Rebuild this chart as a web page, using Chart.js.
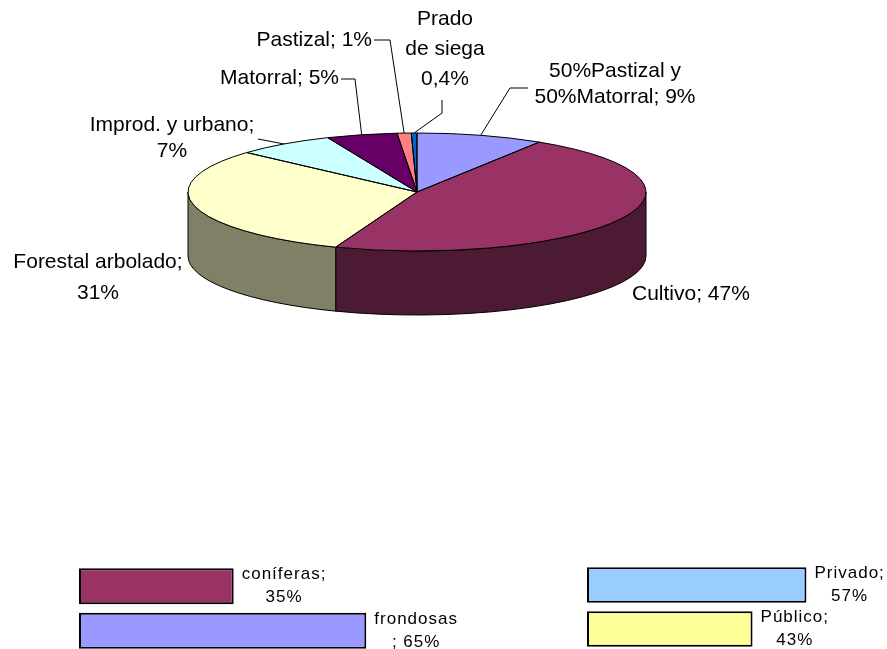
<!DOCTYPE html>
<html>
<head>
<meta charset="utf-8">
<script src="https://cdn.jsdelivr.net/npm/chart.js"></script>
<style>
  html, body { margin: 0; padding: 0; background: #fff; overflow: hidden; width: 887px; height: 649px; }
  .box { position: absolute; }
</style>
</head>
<body>
<div class="box" style="left:0;top:0;width:887px;height:555px"><canvas id="usoChart"></canvas></div>
<div class="box" style="left:70px;top:555px;width:470px;height:100px"><canvas id="especieChart"></canvas></div>
<div class="box" style="left:580px;top:555px;width:307px;height:100px"><canvas id="propiedadChart"></canvas></div>
<script>
// Usos del suelo (pie)
const usoLabels = ['50%Pastizal y 50%Matorral', 'Cultivo', 'Forestal arbolado', 'Improd. y urbano', 'Matorral', 'Pastizal', 'Prado de siega'];
const usoValues = [9, 47, 31, 7, 5, 1, 0.4];
const usoColors = ['#9999FF', '#993366', '#FFFFCC', '#CCFFFF', '#660066', '#FF8080', '#0066CC'];

// Especies del arbolado
const especieLabels = ['coníferas', 'frondosas'];
const especieValues = [35, 65];
const especieColors = ['#993366', '#9999FF'];

// Propiedad
const propiedadLabels = ['Privado', 'Público'];
const propiedadValues = [57, 43];
const propiedadColors = ['#99CCFF', '#FFFF99'];

const FONT = '"Liberation Sans", Arial, sans-serif';

// screen shape of the squashed pie
const PIE = { cy: 192, ry: 59, depth: 64 };

// label boxes for the pie (text and where it sits; anchors come from the arcs)
const pieLabelLayout = [
  { lines: ['50%Pastizal y', '50%Matorral; 9%'], x: 615, y: 71, gap: 26, align: 'center', leader: [[528, 88], [510, 88]] },
  { lines: ['Cultivo; 47%'], x: 632, y: 294, align: 'left' },
  { lines: ['Forestal arbolado;', '31%'], x: 98, y: 262, gap: 31, align: 'center' },
  { lines: ['Improd. y urbano;', '7%'], x: 172, y: 125, gap: 26, align: 'center', leader: [[258, 139]] },
  { lines: ['Matorral; 5%'], x: 339, y: 78, align: 'right', leader: [[341, 79], [355, 79]] },
  { lines: ['Pastizal; 1%'], x: 372, y: 40, align: 'right', leader: [[374, 40], [390, 40]] },
  { lines: ['Prado', 'de siega', '0,4%'], x: 445, y: 19, gap: 30, align: 'center', leader: [[442, 100], [442, 113]] },
];

function darker(hex) {
  const n = parseInt(hex.slice(1), 16);
  const r = Math.round(((n >> 16) & 255) / 2);
  const g = Math.round(((n >> 8) & 255) / 2);
  const b = Math.round((n & 255) / 2);
  return `rgb(${r},${g},${b})`;
}

// Draws the walls, squashes the top face and adds outlines
const pie3d = {
  id: 'pie3d',
  beforeDatasetsDraw(chart) {
    const ctx = chart.ctx;
    const arcs = chart.getDatasetMeta(0).data;
    const cx = arcs[0].x, rx = arcs[0].outerRadius;
    ctx.save();
    ctx.lineWidth = 1;
    ctx.strokeStyle = '#000';
    arcs.forEach((arc, i) => {
      const a = Math.max(arc.startAngle, 0);
      const b = Math.min(arc.endAngle, Math.PI);
      if (b <= a) return;
      ctx.beginPath();
      ctx.ellipse(cx, PIE.cy, rx, PIE.ry, 0, a, b);
      ctx.ellipse(cx, PIE.cy + PIE.depth, rx, PIE.ry, 0, b, a, true);
      ctx.closePath();
      ctx.fillStyle = darker(usoColors[i]);
      ctx.fill();
      ctx.stroke();
    });
    ctx.restore();
    ctx.save();
    ctx.translate(0, PIE.cy);
    ctx.scale(1, PIE.ry / rx);
    ctx.translate(0, -arcs[0].y);
  },
  afterDatasetsDraw(chart) {
    const ctx = chart.ctx;
    ctx.restore();
    const arcs = chart.getDatasetMeta(0).data;
    const cx = arcs[0].x, rx = arcs[0].outerRadius;
    ctx.save();
    ctx.lineWidth = 1;
    ctx.strokeStyle = '#000';
    arcs.forEach(arc => {
      ctx.beginPath();
      ctx.moveTo(cx, PIE.cy);
      ctx.ellipse(cx, PIE.cy, rx, PIE.ry, 0, arc.startAngle, arc.endAngle);
      ctx.closePath();
      ctx.stroke();
    });

    // labels and leader lines
    ctx.fillStyle = '#000';
    ctx.font = `21px ${FONT}`;
    ctx.textBaseline = 'middle';
    pieLabelLayout.forEach((lab, i) => {
      ctx.textAlign = lab.align;
      lab.lines.forEach((t, j) => ctx.fillText(t, lab.x, lab.y + j * (lab.gap || 0)));
      if (lab.leader) {
        const arc = arcs[i];
        const m = (arc.startAngle + arc.endAngle) / 2;
        const ax = cx + rx * Math.cos(m), ay = PIE.cy + PIE.ry * Math.sin(m);
        ctx.beginPath();
        ctx.moveTo(lab.leader[0][0], lab.leader[0][1]);
        lab.leader.slice(1).forEach(p => ctx.lineTo(p[0], p[1]));
        ctx.lineTo(ax, ay);
        ctx.stroke();
      }
    });
    ctx.restore();
  }
};

new Chart(document.getElementById('usoChart'), {
  type: 'pie',
  data: {
    labels: usoLabels,
    datasets: [{ data: usoValues, backgroundColor: usoColors, borderWidth: 0, hoverOffset: 0 }],
  },
  options: {
    responsive: true,
    maintainAspectRatio: false,
    animation: false,
    layout: { padding: { left: 188, right: 241, top: 0, bottom: 97 } },
    plugins: { legend: { display: false }, tooltip: { enabled: false } },
  },
  plugins: [pie3d],
});

// text next to each bar, two centred lines
const barLabels = {
  id: 'barLabels',
  afterDatasetsDraw(chart, args, opts) {
    const ctx = chart.ctx;
    const bars = chart.getDatasetMeta(0).data;
    ctx.save();
    ctx.font = `17px ${FONT}`;
    ctx.letterSpacing = '1px';
    ctx.fillStyle = '#000';
    ctx.textAlign = 'center';
    ctx.textBaseline = 'middle';
    bars.forEach((bar, i) => {
      const name = chart.data.labels[i];
      const val = chart.data.datasets[0].data[i] + '%';
      const lines = opts.splitBefore[i] ? [name, '; ' + val] : [name + ';', val];
      const w = Math.max(...lines.map(t => ctx.measureText(t).width));
      const x = bar.x + 8 + w / 2;
      ctx.fillText(lines[0], x, bar.y - 11.5);
      ctx.fillText(lines[1], x, bar.y + 11.5);
    });
    ctx.restore();
  }
};

function barChart(id, labels, values, colors, max, padding, splitBefore) {
  return new Chart(document.getElementById(id), {
    type: 'bar',
    data: {
      labels: labels,
      datasets: [{
        data: values,
        backgroundColor: colors,
        borderColor: '#000',
        borderWidth: 2,
        borderSkipped: false,
        categoryPercentage: 1,
        barPercentage: 0.81,
      }],
    },
    options: {
      indexAxis: 'y',
      responsive: true,
      maintainAspectRatio: false,
      animation: false,
      layout: { padding: padding },
      scales: {
        x: { display: false, min: 0, max: max },
        y: { display: false },
      },
      plugins: {
        legend: { display: false },
        tooltip: { enabled: false },
        barLabels: { splitBefore: splitBefore },
      },
    },
    plugins: [barLabels],
  });
}

barChart('especieChart', especieLabels, especieValues, especieColors, 100,
  { left: 9, right: 19, top: 9, bottom: 2 }, [false, true]);
barChart('propiedadChart', propiedadLabels, propiedadValues, propiedadColors, 60,
  { left: 7, right: 69, top: 8, bottom: 4 }, [false, false]);
</script>
</body>
</html>
